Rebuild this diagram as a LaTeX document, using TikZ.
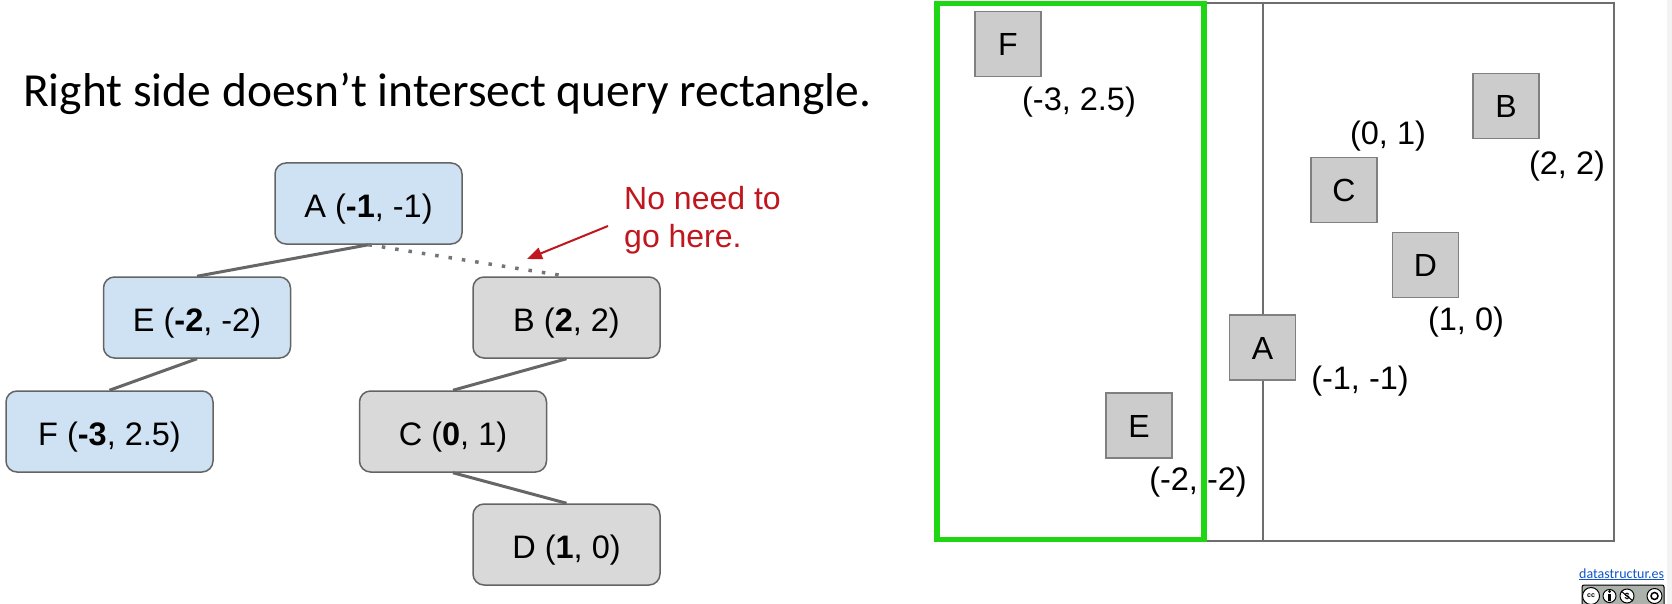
\documentclass[tikz,border=0pt]{standalone}
\usepackage{fontspec}
\setmainfont{Liberation Sans}
\newfontfamily\calibri{Carlito}
\usetikzlibrary{arrows.meta}
\definecolor{bluefill}{RGB}{207,226,243}
\definecolor{grayfill}{RGB}{217,217,217}
\definecolor{boxborder}{RGB}{100,100,100}
\definecolor{sqfill}{RGB}{204,204,204}
\definecolor{sqborder}{RGB}{128,128,128}
\definecolor{edgegray}{RGB}{102,102,102}
\definecolor{panelgray}{RGB}{110,110,110}
\definecolor{querygreen}{RGB}{30,214,20}
\definecolor{notered}{RGB}{192,22,30}
\definecolor{linkblue}{RGB}{17,85,204}
\definecolor{badgegray}{RGB}{170,178,171}
\definecolor{stripgray}{RGB}{243,243,243}
\tikzset{
  treebox/.style={rounded corners=11pt, draw=boxborder, line width=1.5pt,
    minimum width=187pt, minimum height=81pt, inner sep=0pt,
    text height=30pt, text depth=3pt, font=\fontsize{32.5}{38}\selectfont},
  bluebox/.style={treebox, fill=bluefill},
  graybox/.style={treebox, fill=grayfill},
  treeedge/.style={draw=edgegray, line width=3pt},
  skipedge/.style={draw=edgegray!90, line width=3.5pt, dash pattern=on 3.5pt off 10pt},
  sqbox/.style={draw=sqborder, fill=sqfill, line width=1.5pt, minimum width=66pt,
    minimum height=65pt, inner sep=0pt, text height=23pt, text depth=0pt,
    font=\fontsize{32}{38}\selectfont},
  coordlabel/.style={inner sep=0pt, font=\fontsize{32.5}{38}\selectfont},
  notetext/.style={anchor=base west, inner sep=0pt, text=notered, font=\fontsize{32}{38}\selectfont},
  badgecirc/.style={circle, draw=black, fill=white, line width=1pt, inner sep=0pt},
}
\begin{document}
\begin{tikzpicture}[x=1pt,y=-1pt]
\useasboundingbox (0,0) rectangle (1672,604);
\fill[white] (0,0) rectangle (1672,604);
\fill[stripgray] (1667,0) rectangle (1672,604);

% title
\node[anchor=base west, inner sep=0pt, font=\calibri\fontsize{47.5}{56}\selectfont] (title) at (23,107)
  {Right side doesn’t intersect query rectangle.};

% tree
\node[bluebox] (tA) at (368.5,203.5) {A (\textbf{-1}, -1)};
\node[bluebox] (tE) at (197,317.5) {E (\textbf{-2}, -2)};
\node[bluebox, minimum width=207pt] (tF) at (109.5,431.5) {F (\textbf{-3}, 2.5)};
\node[graybox] (tB) at (566.5,317.5) {B (\textbf{2}, 2)};
\node[graybox] (tC) at (453,431.5) {C (\textbf{0}, 1)};
\node[graybox] (tD) at (566.5,544.5) {D (\textbf{1}, 0)};

\draw[treeedge] (tA.south) -- (tE.north);
\draw[treeedge] (tE.south) -- (tF.north);
\draw[treeedge] (tB.south) -- (tC.north);
\draw[treeedge] (tC.south) -- (tD.north);
\draw[skipedge] (tA.south) -- (tB.north);

% note
\node[notetext] (note1) at (624,210) {No need to};
\node[notetext] (note2) at (624,247) {go here.};
\coordinate (arrstart) at (608,226);
\coordinate (arrtip) at (527,259);
\draw[notered, line width=2pt, -{Triangle[length=15pt,width=12pt]}] (arrstart) -- (arrtip);

% right panel
\draw[panelgray, line width=2pt] (937,3) rectangle (1614,541);
\draw[panelgray, line width=2.5pt] (1263,3) -- (1263,541);
\draw[querygreen, line width=5.5pt] (937,3.5) rectangle (1204,539.5);

\node[sqbox] (sF) at (1008,44) {F};
\node[sqbox] (sE) at (1139,425.5) {E};
\node[sqbox] (sA) at (1262.5,347.5) {A};
\node[sqbox] (sC) at (1344,190) {C};
\node[sqbox] (sD) at (1425.5,265) {D};
\node[sqbox] (sB) at (1506,106) {B};

\node[coordlabel] (lF) at (1079,102) {(-3, 2.5)};
\node[coordlabel] (lE) at (1198,482) {(-2, -2)};
\node[coordlabel] (lA) at (1360,381) {(-1, -1)};
\node[coordlabel] (lD) at (1466,322) {(1, 0)};
\node[coordlabel] (lC) at (1388,136) {(0, 1)};
\node[coordlabel] (lB) at (1567,166) {(2, 2)};

% footer
\node[anchor=base west, inner sep=0pt, text=linkblue, font=\calibri\fontsize{14}{16}\selectfont] (link) at (1579,578)
  {\underline{datastructur.es}};
\draw[black, fill=badgegray, line width=1pt, rounded corners=2pt] (1582,585) rectangle (1664,610);
\node[badgecirc, minimum size=17pt, font=\bfseries\fontsize{7}{8}\selectfont] (cc) at (1591,596) {cc};
\node[badgecirc, minimum size=13pt] (by) at (1609.5,596) {};
\fill[black] (1609.5,591.5) circle (1.5pt);
\fill[black] (1608,594) rectangle (1611,601);
\node[badgecirc, minimum size=14pt, font=\bfseries\fontsize{9}{10}\selectfont] (nc) at (1627,596) {\$};
\draw[black, line width=1pt] (1621,591) -- (1633,601);
\node[badgecirc, minimum size=15pt] (sa) at (1654.5,596) {};
\draw[black, line width=1.5pt] (1654.5,596) circle (3.5pt);
\end{tikzpicture}
\end{document}
